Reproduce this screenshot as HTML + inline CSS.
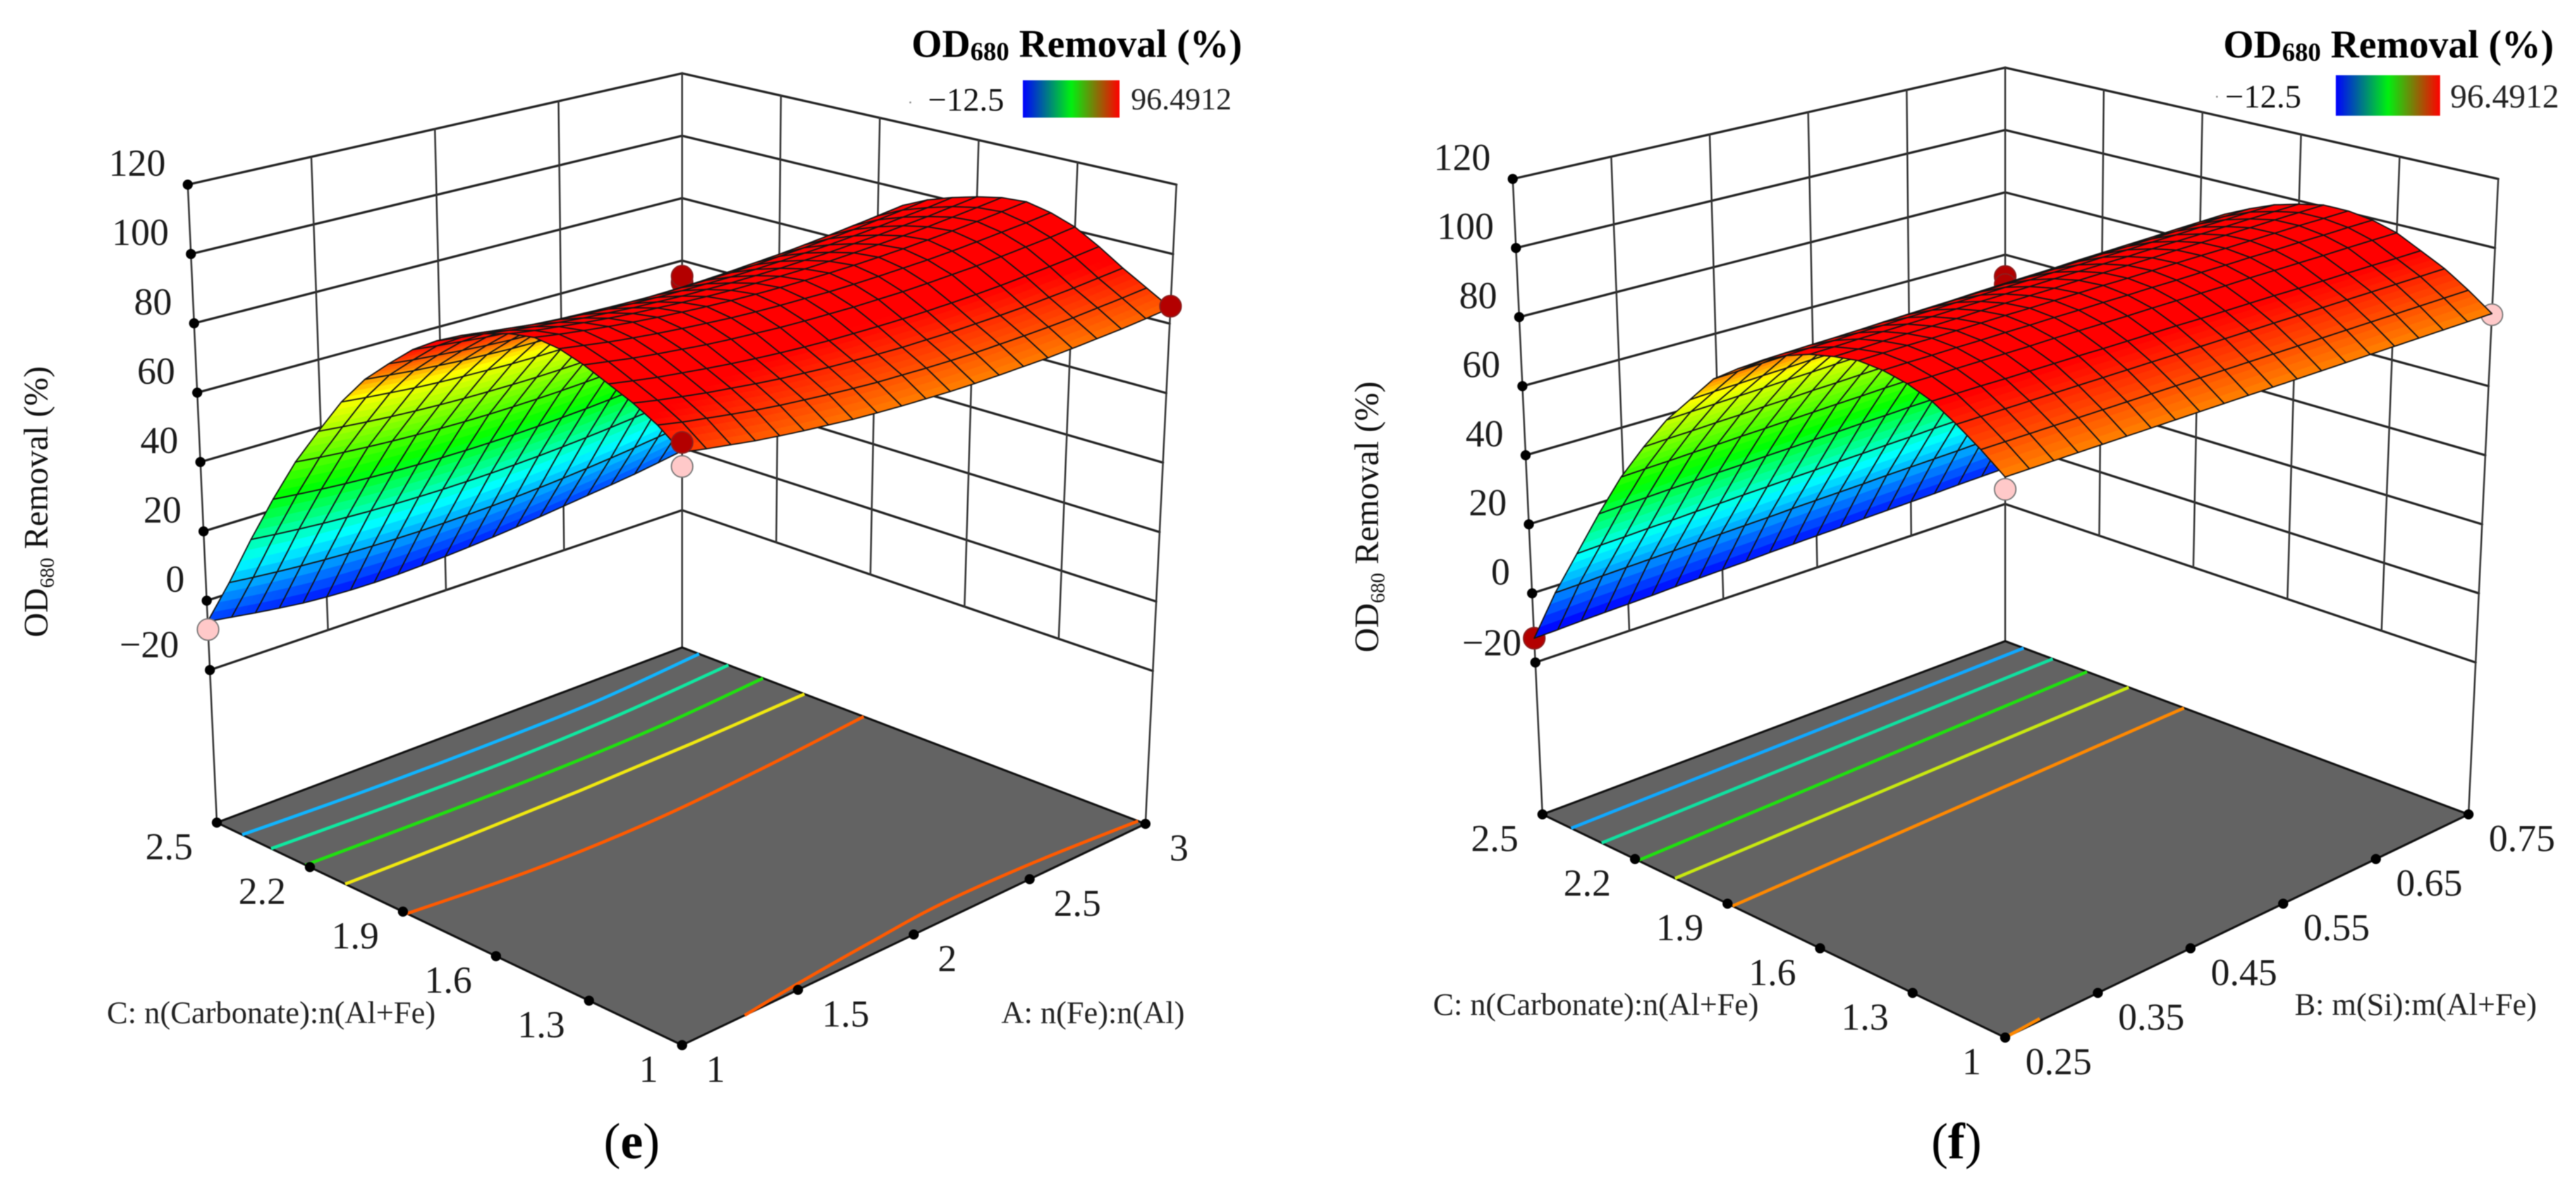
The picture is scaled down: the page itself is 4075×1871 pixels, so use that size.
<!DOCTYPE html>
<html lang="en">
<head>
<meta charset="utf-8">
<title>OD680 Removal response surfaces</title>
<style>
html,body{margin:0;padding:0;background:#fff;}
svg{display:block;font-family:"Liberation Serif",serif;filter:blur(0.9px);}
</style>
</head>
<body>
<svg id="figure" width="4075" height="1871" viewBox="0 0 4075 1871">
  <defs>
    <linearGradient id="legendRamp" x1="0" y1="0" x2="1" y2="0">
      <stop offset="0" stop-color="#0000ff"/>
      <stop offset="0.5" stop-color="#00f010"/>
      <stop offset="1" stop-color="#ff0000"/>
    </linearGradient>
  </defs>
  <rect x="0" y="0" width="4075" height="1871" fill="#fff"/>
  <g id="panelE"></g>
  <g id="panelF"></g>

  <text transform="translate(75,1008) rotate(-90)" font-size="54" fill="#111">OD<tspan font-size="32" dy="10">680</tspan><tspan dy="-10"> Removal (%)</tspan></text>
  <text transform="translate(2180,1032) rotate(-90)" font-size="54" fill="#111">OD<tspan font-size="32" dy="10">680</tspan><tspan dy="-10"> Removal (%)</tspan></text>

  <text x="169" y="1618" font-size="50" textLength="520" lengthAdjust="spacingAndGlyphs" fill="#222">C: n(Carbonate):n(Al+Fe)</text>
  <text x="1584" y="1618" font-size="50" textLength="290" lengthAdjust="spacingAndGlyphs" fill="#222">A: n(Fe):n(Al)</text>
  <text x="2267" y="1605" font-size="50" textLength="515" lengthAdjust="spacingAndGlyphs" fill="#222">C: n(Carbonate):n(Al+Fe)</text>
  <text x="3630" y="1605" font-size="50" textLength="383" lengthAdjust="spacingAndGlyphs" fill="#222">B: m(Si):m(Al+Fe)</text>

  <g>
    <text x="1442" y="90" font-size="62" font-weight="bold" fill="#000">OD<tspan font-size="41" dy="5">680</tspan><tspan dy="-5"> Removal (%)</tspan></text>
    <circle cx="1440" cy="162" r="1.5" fill="#888"/>
    <text x="1468" y="175" font-size="52" fill="#111">−12.5</text>
    <rect x="1618" y="127" width="153" height="59" fill="url(#legendRamp)"/>
    <text x="1789" y="173" font-size="49" fill="#222">96.4912</text>
  </g>
  <g>
    <text x="3517" y="91" font-size="62" font-weight="bold" fill="#000">OD<tspan font-size="41" dy="5">680</tspan><tspan dy="-5"> Removal (%)</tspan></text>
    <circle cx="3507" cy="153" r="1.5" fill="#888"/>
    <text x="3520" y="170" font-size="52" fill="#111">−12.5</text>
    <rect x="3695" y="119" width="165" height="64" fill="url(#legendRamp)"/>
    <text x="3876" y="170" font-size="53" fill="#222">96.4912</text>
  </g>

  <text x="955" y="1832" font-size="80" fill="#000">(<tspan font-weight="bold">e</tspan>)</text>
  <text x="3055" y="1832" font-size="80" fill="#000">(<tspan font-weight="bold">f</tspan>)</text>
</svg>

<script>
// ---------- shared axis values ----------
const zTicks = [-20, 0, 20, 40, 60, 80, 100, 120];
const floorLevel = -64;
const colorLevels = [-12, 15, 38, 72, 81, 94];
const colorRamp = [[0, 0, 255], [0, 255, 255], [0, 255, 0], [255, 255, 0], [255, 130, 0], [255, 0, 0]];

// ---------- panel (e) values ----------
const eTicksA = [1, 1.5, 2, 2.5, 3];
const eTicksC = [1, 1.3, 1.6, 1.9, 2.2, 2.5];
// rows: C from 1 to 2.5, columns: A from 1 to 3
const eSurfaceZ = [
[88,86.9,85.9,84.9,84.1,83.4,82.8,82.2,81.8,81.5,81.3,81.1,81.1,81.2,81.4,81.6,82,82.5,83,83.7,84.5],
[93,91.8,90.8,89.8,88.9,88.1,87.5,86.9,86.4,86,85.8,85.6,85.5,85.5,85.7,85.9,86.2,86.6,87.2,87.8,88.5],
[96.7,95.5,94.5,93.5,92.7,91.9,91.2,90.7,90.2,89.9,89.6,89.4,89.4,89.4,89.6,89.8,90.1,90.6,91.1,91.8,92.5],
[99.7,98.6,97.6,96.8,96,95.3,94.7,94.2,93.8,93.5,93.4,93.3,93.3,93.4,93.6,93.9,94.3,94.9,95.5,96.2,97],
[102.7,101.7,100.7,99.9,99.2,98.5,98,97.6,97.2,97,96.9,96.8,96.9,97,97.3,97.7,98.1,98.7,99.4,100.1,101],
[105,104,103,102.2,101.5,100.9,100.4,99.9,99.6,99.4,99.3,99.2,99.3,99.5,99.8,100.1,100.6,101.2,101.9,102.6,103.5],
[106,105,104.1,103.3,102.6,102,101.5,101.1,100.8,100.6,100.5,100.5,100.6,100.8,101.1,101.5,102,102.6,103.3,104.1,105],
[105,104,103.2,102.4,101.7,101.1,100.7,100.3,100,99.8,99.8,99.8,99.9,100.1,100.5,100.9,101.4,102,102.8,103.6,104.5],
[103,102.1,101.2,100.5,99.8,99.3,98.8,98.5,98.2,98.1,98,98.1,98.2,98.5,98.8,99.3,99.8,100.5,101.2,102.1,103],
[100.5,99.6,98.8,98,97.4,96.9,96.5,96.1,95.9,95.8,95.8,95.8,96,96.3,96.7,97.1,97.7,98.4,99.2,100,101],
[97,96.1,95.4,94.7,94.1,93.6,93.3,93,92.8,92.7,92.8,92.9,93.1,93.4,93.9,94.4,95,95.7,96.6,97.5,98.5],
[92.5,91.7,91,90.3,89.8,89.4,89.1,88.8,88.7,88.7,88.8,88.9,89.2,89.6,90.1,90.6,91.3,92.1,93,93.9,95],
[86.5,85.7,85.1,84.5,84,83.6,83.4,83.2,83.1,83.1,83.3,83.5,83.8,84.2,84.8,85.4,86.1,86.9,87.9,88.9,90],
[80,79.3,78.6,78.1,77.6,77.3,77,76.9,76.8,76.9,77,77.2,77.6,78.1,78.6,79.3,80,80.9,81.8,82.9,84],
[71.5,70.8,70.2,69.6,69.2,68.9,68.7,68.5,68.5,68.6,68.8,69,69.4,69.9,70.5,71.1,71.9,72.8,73.8,74.8,76],
[61,60.3,59.7,59.2,58.8,58.5,58.3,58.2,58.2,58.3,58.5,58.8,59.2,59.7,60.3,61,61.8,62.7,63.7,64.8,66],
[50,49.3,48.7,48.2,47.8,47.5,47.3,47.2,47.2,47.3,47.5,47.8,48.2,48.7,49.3,50,50.8,51.7,52.7,53.8,55],
[37,36.3,35.7,35.2,34.8,34.5,34.3,34.2,34.2,34.3,34.5,34.8,35.2,35.7,36.3,37,37.8,38.7,39.7,40.8,42],
[23,22.3,21.7,21.2,20.8,20.5,20.3,20.2,20.2,20.3,20.5,20.8,21.2,21.7,22.3,23,23.8,24.7,25.7,26.8,28],
[8,7.3,6.7,6.2,5.8,5.5,5.3,5.2,5.2,5.3,5.5,5.8,6.2,6.7,7.3,8,8.8,9.7,10.7,11.8,13],
[-6,-7,-8,-8.9,-9.7,-10.2,-10.5,-10.6,-10.5,-10.2,-9.8,-9.3,-8.7,-8,-7.2,-6.3,-5.4,-4.5,-3.5,-2.3,-1]
];
const eContourColors = ['#10b4ff', '#10e8a0', '#20e010', '#f0e810', '#ff5a00', '#ff5a00'];
const eContourA = [
  [1, 1.5, 2, 2.5, 3],
  [1, 1.5, 2, 2.5, 3],
  [1, 1.5, 2, 2.5, 3],
  [1, 1.5, 2, 2.5, 3],
  [1, 1.5, 2, 2.5, 3],
  [1.27, 1.53, 1.87, 2.2, 2.59, 3]
];
const eContourC = [
  [2.418, 2.406, 2.403, 2.41, 2.445],
  [2.325, 2.313, 2.308, 2.32, 2.35],
  [2.214, 2.205, 2.2, 2.208, 2.238],
  [2.086, 2.08, 2.08, 2.088, 2.104],
  [1.887, 1.854, 1.849, 1.873, 1.912],
  [1, 1.022, 1.045, 1.063, 1.054, 1.024]
];
const eMarkerA = [3, 3, 1, 3, 3, 3];
const eMarkerC = [2.5, 2.5, 2.5, 2.5, 2.5, 1];
const eMarkerZ = [53, 55, -8.3, -6, 1.7, 85];
const eMarkerRun = ['high', 'high', 'low', 'low', 'high', 'high'];
const eMarkerBehind = [true, true, false, false, false, false];

// ---------- panel (f) values ----------
const fTicksB = [0.25, 0.35, 0.45, 0.55, 0.65, 0.75];
const fTicksC = [1, 1.3, 1.6, 1.9, 2.2, 2.5];
// rows: C from 1 to 2.5, columns: B from 0.25 to 0.75
const fSurfaceZ = [
[81,81,81,81,81,81,81,81,81,81,81,81,81,81,81,81,81,81,81,81,81],
[86,86,86,86,86,86,86,86,86,86,86,86,86,86,86,86,86,86,86,86,86],
[90.5,90.5,90.5,90.5,90.5,90.5,90.5,90.5,90.5,90.5,90.5,90.5,90.5,90.5,90.5,90.5,90.5,90.5,90.5,90.5,90.5],
[94.5,94.5,94.5,94.4,94.4,94.4,94.4,94.3,94.3,94.3,94.3,94.2,94.2,94.2,94.2,94.1,94.1,94.1,94.1,94,94],
[97,97,97.1,97.1,97.1,97.1,97.2,97.2,97.2,97.2,97.3,97.3,97.3,97.3,97.4,97.4,97.4,97.4,97.5,97.5,97.5],
[98.5,98.6,98.6,98.7,98.7,98.8,98.8,98.9,98.9,99,99,99.1,99.1,99.2,99.2,99.3,99.3,99.4,99.4,99.5,99.5],
[99,99.1,99.2,99.2,99.3,99.4,99.5,99.5,99.6,99.7,99.8,99.8,99.9,100,100.1,100.1,100.2,100.3,100.4,100.4,100.5],
[98,98.1,98.3,98.4,98.5,98.6,98.8,98.9,99,99.1,99.3,99.4,99.5,99.6,99.8,99.9,100,100.1,100.3,100.4,100.5],
[96.5,96.6,96.8,96.9,97,97.1,97.3,97.4,97.5,97.6,97.8,97.9,98,98.1,98.3,98.4,98.5,98.6,98.8,98.9,99],
[94,94.2,94.3,94.5,94.6,94.8,94.9,95.1,95.2,95.4,95.5,95.7,95.8,96,96.1,96.3,96.4,96.6,96.7,96.9,97],
[90.5,90.7,90.9,91,91.2,91.4,91.6,91.7,91.9,92.1,92.3,92.4,92.6,92.8,93,93.1,93.3,93.5,93.7,93.8,94],
[86,86.2,86.5,86.7,86.9,87.1,87.4,87.6,87.8,88,88.3,88.5,88.7,88.9,89.2,89.4,89.6,89.8,90.1,90.3,90.5],
[81,81.2,81.5,81.7,81.9,82.1,82.4,82.6,82.8,83,83.3,83.5,83.7,83.9,84.2,84.4,84.6,84.8,85.1,85.3,85.5],
[73,73.3,73.5,73.8,74,74.3,74.5,74.8,75,75.3,75.5,75.8,76,76.3,76.5,76.8,77,77.3,77.5,77.8,78],
[65,65.3,65.5,65.8,66,66.3,66.5,66.8,67,67.3,67.5,67.8,68,68.3,68.5,68.8,69,69.3,69.5,69.8,70],
[55,55.3,55.5,55.8,56,56.3,56.5,56.8,57,57.3,57.5,57.8,58,58.3,58.5,58.8,59,59.3,59.5,59.8,60],
[44,44.3,44.5,44.8,45,45.3,45.5,45.8,46,46.3,46.5,46.8,47,47.3,47.5,47.8,48,48.3,48.5,48.8,49],
[31,31.3,31.5,31.8,32,32.3,32.5,32.8,33,33.3,33.5,33.8,34,34.3,34.5,34.8,35,35.3,35.5,35.8,36],
[17,17.3,17.5,17.8,18,18.3,18.5,18.8,19,19.3,19.5,19.8,20,20.3,20.5,20.8,21,21.3,21.5,21.8,22],
[3,3.2,3.5,3.7,3.9,4.1,4.4,4.6,4.8,5,5.3,5.5,5.7,5.9,6.2,6.4,6.6,6.8,7.1,7.3,7.5],
[-13,-12.8,-12.5,-12.3,-12.1,-11.9,-11.6,-11.4,-11.2,-11,-10.7,-10.5,-10.3,-10.1,-9.8,-9.6,-9.4,-9.2,-8.9,-8.7,-8.5]
];
const fContourColors = ['#10a8ff', '#10e0a0', '#20e010', '#c8e810', '#ff8800', '#ff8800'];
const fContourB = [
  [0.25, 0.75],
  [0.25, 0.75],
  [0.25, 0.75],
  [0.25, 0.75],
  [0.25, 0.75],
  [0.25, 0.29]
];
const fContourC = [
  [2.407, 2.44],
  [2.308, 2.346],
  [2.19, 2.235],
  [2.07, 2.10],
  [1.884, 1.921],
  [1, 1.008]
];
const fMarkerB = [0.75, 0.75, 0.25, 0.75, 0.75];
const fMarkerC = [2.5, 2.5, 2.5, 2.5, 1];
const fMarkerZ = [53, 50.4, -13, -15.3, 80.7];
const fMarkerRun = ['high', 'high', 'high', 'low', 'low'];
const fMarkerBehind = [true, true, true, false, true];

// ---------- drawing ----------
const root = document.getElementById('figure');
const NS = root.namespaceURI;

function shape(parent, tag, attrs) {
  const el = document.createElementNS(NS, tag);
  for (const k in attrs) el.setAttribute(k, attrs[k]);
  parent.appendChild(el);
  return el;
}

function zColor(z) {
  if (z <= colorLevels[0]) return 'rgb(' + colorRamp[0].join(',') + ')';
  for (let i = 1; i < colorLevels.length; i++) {
    if (z <= colorLevels[i]) {
      const t = (z - colorLevels[i - 1]) / (colorLevels[i] - colorLevels[i - 1]);
      const a = colorRamp[i - 1], b = colorRamp[i];
      return 'rgb(' + Math.round(a[0] + (b[0] - a[0]) * t) + ',' + Math.round(a[1] + (b[1] - a[1]) * t) + ',' + Math.round(a[2] + (b[2] - a[2]) * t) + ')';
    }
  }
  return 'rgb(255,0,0)';
}

function smoothPath(pts) {
  let d = 'M' + pts[0][0].toFixed(1) + ' ' + pts[0][1].toFixed(1);
  for (let i = 0; i < pts.length - 1; i++) {
    const p0 = pts[Math.max(i - 1, 0)], p1 = pts[i], p2 = pts[i + 1], p3 = pts[Math.min(i + 2, pts.length - 1)];
    d += 'C' + (p1[0] + (p2[0] - p0[0]) / 6).toFixed(1) + ' ' + (p1[1] + (p2[1] - p0[1]) / 6).toFixed(1) + ' ' +
         (p2[0] - (p3[0] - p1[0]) / 6).toFixed(1) + ' ' + (p2[1] - (p3[1] - p1[1]) / 6).toFixed(1) + ' ' +
         p2[0].toFixed(1) + ' ' + p2[1].toFixed(1);
  }
  return d;
}

function drawPanel(cfg) {
  const g = cfg.group;
  const aMin = cfg.ticksA[0], aMax = cfg.ticksA[cfg.ticksA.length - 1];
  const cMin = cfg.ticksC[0], cMax = cfg.ticksC[cfg.ticksC.length - 1];
  const zTop = zTicks[zTicks.length - 1];

  function corner(n, u, w) {
    return (1 - u) * (1 - w) * n[0] + u * (1 - w) * n[1] + (1 - u) * w * n[2] + u * w * n[3];
  }
  function projUW(u, w, z) {
    const h = (z - floorLevel) / (zTop - floorLevel);
    const fx = corner(cfg.floorX, u, w), fy = corner(cfg.floorY, u, w);
    const tx = corner(cfg.topX, u, w), ty = corner(cfg.topY, u, w);
    return [fx + (tx - fx) * h, fy + (ty - fy) * h];
  }
  function project(a, c, z) {
    return projUW((a - aMin) / (aMax - aMin), (c - cMin) / (cMax - cMin), z);
  }
  function line(parent, p, q, width, color) {
    return shape(parent, 'line', { x1: p[0].toFixed(1), y1: p[1].toFixed(1), x2: q[0].toFixed(1), y2: q[1].toFixed(1), stroke: color, 'stroke-width': width, 'stroke-linecap': 'round' });
  }

  // back walls
  const walls = shape(g, 'g', {});
  
  
  const zLow = zTicks[0];
  zTicks.forEach(function (z) {
    const l1 = line(walls, project(aMin, cMax, z), project(aMax, cMax, z), 3.6, '#222');
    
    
    const l2 = line(walls, project(aMax, cMax, z), project(aMax, cMin, z), 3.6, '#222');
    
    
  });
  cfg.ticksA.forEach(function (a, i) {
    if (i === 0 || i === cfg.ticksA.length - 1) return;
    const v = line(walls, project(a, cMax, zTop), project(a, cMax, zLow), 2.8, '#333');
    
    
  });
  cfg.ticksC.forEach(function (c, i) {
    if (i === 0 || i === cfg.ticksC.length - 1) return;
    const v = line(walls, project(aMax, c, zTop), project(aMax, c, zLow), 2.8, '#333');
    
    
  });
  const cornerL = line(walls, project(aMin, cMax, zTop), project(aMin, cMax, floorLevel), 2.8, '#333');
  
  
  const cornerB = line(walls, project(aMax, cMax, zTop), project(aMax, cMax, floorLevel), 2.8, '#333');
  
  
  const cornerR = line(walls, project(aMax, cMin, zTop), project(aMax, cMin, floorLevel), 2.8, '#333');
  
  

  // floor
  const pF = project(aMin, cMin, floorLevel), pR = project(aMax, cMin, floorLevel), pB = project(aMax, cMax, floorLevel), pL = project(aMin, cMax, floorLevel);
  const floor = shape(g, 'polygon', {
    points: [pF, pR, pB, pL].map(function (p) { return p[0].toFixed(1) + ',' + p[1].toFixed(1); }).join(' '),
    fill: '#636363', stroke: '#111', 'stroke-width': 3.4, 'stroke-linejoin': 'round'
  });
  
  

  // floor contours
  cfg.contourA.forEach(function (xs, n) {
    const pts = xs.map(function (a, i) { return project(a, cfg.contourC[n][i], floorLevel); });
    const path = shape(g, 'path', { d: smoothPath(pts), fill: 'none', stroke: cfg.contourColors[n], 'stroke-width': 5, 'stroke-linecap': 'butt' });
    
    
  });

  // tick dots and labels
  zTicks.forEach(function (z, i) {
    const p = project(aMin, cMax, z);
    const dot = shape(g, 'circle', { cx: p[0].toFixed(1), cy: p[1].toFixed(1), r: 8, fill: '#000' });
    
    
    const dx = i === 0 ? cfg.lowLabelDx : -35;
    const dy = i === 0 ? cfg.lowLabelDy : -14;
    const t = shape(g, 'text', { x: (p[0] + dx).toFixed(1), y: (p[1] + dy).toFixed(1), 'font-size': 60, 'text-anchor': 'end', fill: '#1a1a1a' });
    t.textContent = String(z).replace('-', '\u2212');
    
    
  });
  cfg.ticksC.forEach(function (c) {
    const p = project(aMin, c, floorLevel);
    const dot = shape(g, 'circle', { cx: p[0].toFixed(1), cy: p[1].toFixed(1), r: 8, fill: '#000' });
    
    
    const t = shape(g, 'text', { x: (p[0] - 38).toFixed(1), y: (p[1] + 58).toFixed(1), 'font-size': 60, 'text-anchor': 'end', fill: '#1a1a1a' });
    t.textContent = String(c);
    
    
  });
  cfg.ticksA.forEach(function (a) {
    const p = project(a, cMin, floorLevel);
    const dot = shape(g, 'circle', { cx: p[0].toFixed(1), cy: p[1].toFixed(1), r: 8, fill: '#000' });
    
    
    const t = shape(g, 'text', { x: (p[0] + cfg.xLabelDx).toFixed(1), y: (p[1] + 58).toFixed(1), 'font-size': 60, 'text-anchor': 'start', fill: '#1a1a1a' });
    t.textContent = String(a);
    
    
  });

  function drawMarkers(behind) {
    cfg.markerZ.forEach(function (z, i) {
      if (cfg.markerBehind[i] !== behind) return;
      const p = project(cfg.markerA[i], cfg.markerC[i], z);
      const high = cfg.markerRun[i] === 'high';
      const m = shape(g, 'circle', { cx: p[0].toFixed(1), cy: p[1].toFixed(1), r: 17, fill: high ? '#b30000' : '#ffc9c9', stroke: high ? '#8a2020' : '#777', 'stroke-width': 2 });
      
      
    });
  }
  drawMarkers(true);

  // surface: far cells first, near cells last
  const surface = shape(g, 'g', {});
  
  
  const rows = cfg.surface.length, cols = cfg.surface[0].length;
  const S = 4;
  for (let j = rows - 2; j >= 0; j--) {
    for (let i = cols - 2; i >= 0; i--) {
      const z00 = cfg.surface[j][i], z10 = cfg.surface[j][i + 1], z01 = cfg.surface[j + 1][i], z11 = cfg.surface[j + 1][i + 1];
      const at = function (s, t) {
        const z = (1 - s) * (1 - t) * z00 + s * (1 - t) * z10 + (1 - s) * t * z01 + s * t * z11;
        return { z: z, p: projUW((i + s) / (cols - 1), (j + t) / (rows - 1), z) };
      };
      const cell = shape(surface, 'g', {});
      
      
      for (let b = S - 1; b >= 0; b--) {
        for (let a = S - 1; a >= 0; a--) {
          const q = [at(a / S, b / S), at((a + 1) / S, b / S), at((a + 1) / S, (b + 1) / S), at(a / S, (b + 1) / S)];
          const color = zColor((q[0].z + q[1].z + q[2].z + q[3].z) / 4);
          const facet = shape(cell, 'polygon', {
            points: q.map(function (v) { return v.p[0].toFixed(1) + ',' + v.p[1].toFixed(1); }).join(' '),
            fill: color, stroke: color, 'stroke-width': 0.8
          });
          
          
        }
      }
      let d = '';
      const edge = function (fn) {
        for (let k = 0; k <= S; k++) {
          const pt = fn(k / S).p;
          d += (d === '' ? 'M' : 'L') + pt[0].toFixed(1) + ' ' + pt[1].toFixed(1);
        }
      };
      edge(function (k) { return at(k, 0); });
      edge(function (k) { return at(1, k); });
      edge(function (k) { return at(1 - k, 1); });
      edge(function (k) { return at(0, 1 - k); });
      const mesh = shape(cell, 'path', { d: d + 'Z', fill: 'none', stroke: '#141414', 'stroke-width': 2, 'stroke-linejoin': 'round' });
      
      
    }
  }
  drawMarkers(false);
}

drawPanel({
  group: document.getElementById('panelE'),
  ticksA: eTicksA, ticksC: eTicksC, surface: eSurfaceZ,
  contourA: eContourA, contourC: eContourC, contourColors: eContourColors,
  markerA: eMarkerA, markerC: eMarkerC, markerZ: eMarkerZ, markerRun: eMarkerRun, markerBehind: eMarkerBehind,
  floorX: [1079, 1812, 343, 1079], floorY: [1653, 1303, 1301, 1024],
  topX: [1079, 1861, 297, 1079], topY: [518, 292, 292, 116],
  lowLabelDx: -49, lowLabelDy: -20, xLabelDx: 38
});

drawPanel({
  group: document.getElementById('panelF'),
  ticksA: fTicksB, ticksC: fTicksC, surface: fSurfaceZ,
  contourA: fContourB, contourC: fContourC, contourColors: fContourColors,
  markerA: fMarkerB, markerC: fMarkerC, markerZ: fMarkerZ, markerRun: fMarkerRun, markerBehind: fMarkerBehind,
  floorX: [3172, 3905, 2440, 3172], floorY: [1641, 1288, 1288, 1014],
  topX: [3172, 3952, 2393, 3172], topY: [516, 283, 283, 107],
  lowLabelDx: -22, lowLabelDy: -11, xLabelDx: 32
});
</script>
</body>
</html>
